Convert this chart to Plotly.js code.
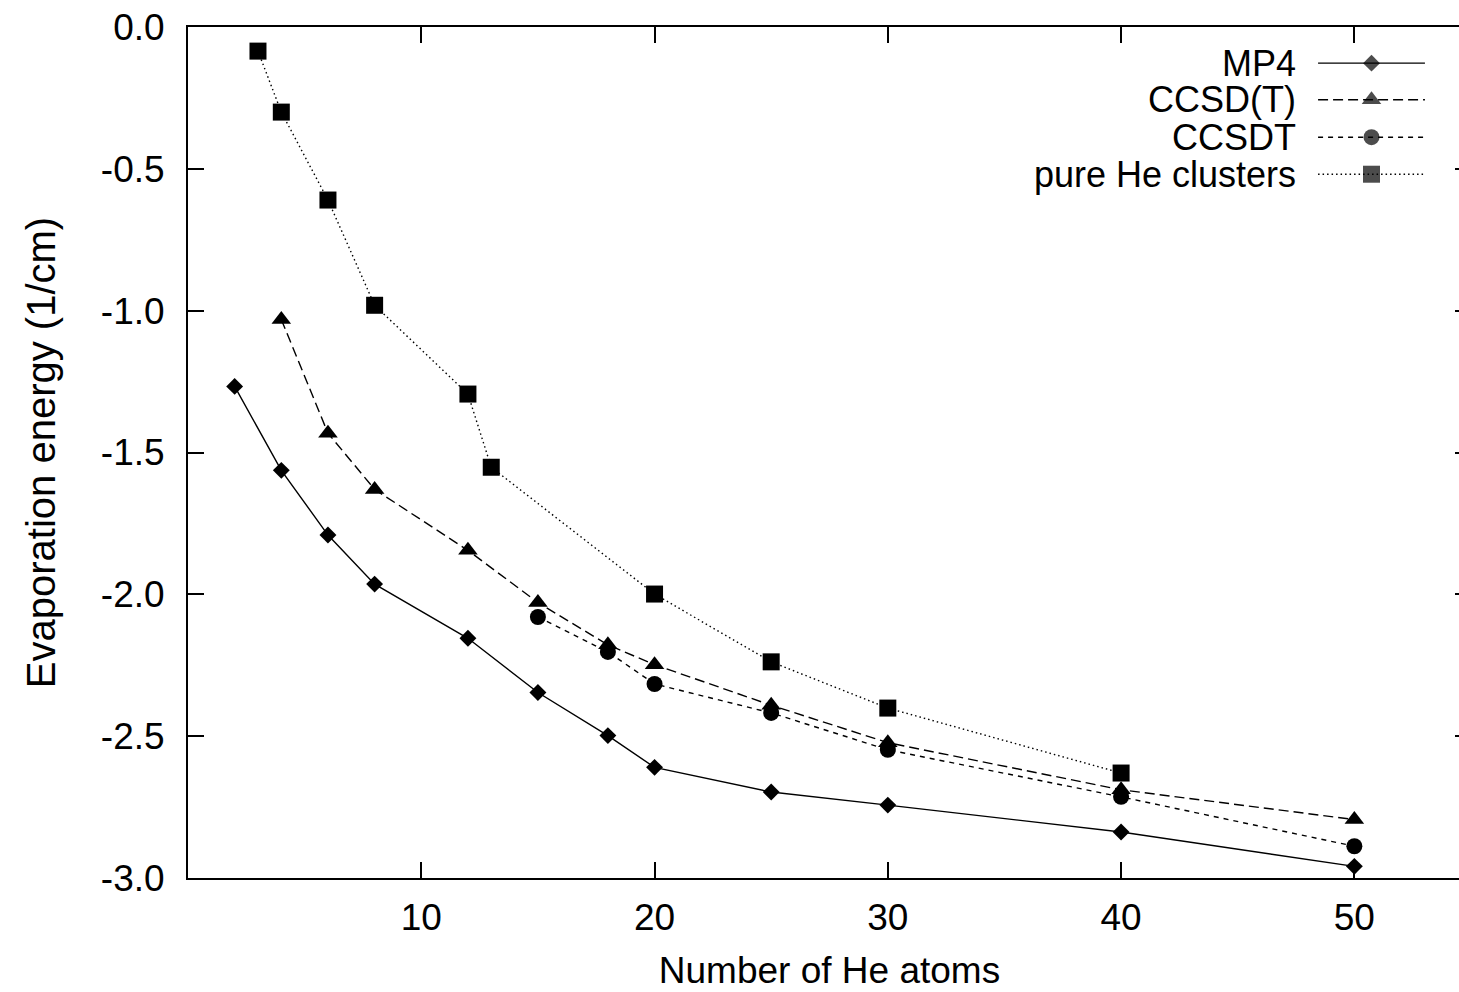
<!DOCTYPE html>
<html>
<head>
<meta charset="utf-8">
<script src="https://cdn.plot.ly/plotly-3.0.1.min.js"></script>
<style>
  html, body { margin: 0; padding: 0; background: #fff; overflow: hidden; }
  #chart { width: 1471px; height: 992px; }
</style>
</head>
<body>
<div id="chart"></div>
<script>
// ---- data ----
const seriesNames = ["MP4", "CCSD(T)", "CCSDT", "pure He clusters"];

const nMP4 = [2, 4, 6, 8, 12, 15, 18, 20, 25, 30, 40, 50];
const eMP4 = [-1.267, -1.563, -1.791, -1.964, -2.155, -2.346, -2.498, -2.610, -2.697, -2.743, -2.838, -2.959];

const nCCSD_T = [4, 6, 8, 12, 15, 18, 20, 25, 30, 40, 50];
const eCCSD_T = [-1.031, -1.432, -1.630, -1.845, -2.029, -2.178, -2.248, -2.391, -2.523, -2.689, -2.794];

const nCCSDT = [15, 18, 20, 25, 30, 40, 50];
const eCCSDT = [-2.080, -2.203, -2.316, -2.418, -2.548, -2.714, -2.888];

const nPure = [3, 4, 6, 8, 12, 13, 20, 25, 30, 40];
const ePure = [-0.085, -0.300, -0.610, -0.981, -1.294, -1.552, -1.999, -2.238, -2.401, -2.630];

const xTickVals = [10, 20, 30, 40, 50];
const xTickText = ["10", "20", "30", "40", "50"];
const yTickVals = [0, -0.5, -1.0, -1.5, -2.0, -2.5, -3.0];
const yTickText = ["0.0", "-0.5", "-1.0", "-1.5", "-2.0", "-2.5", "-3.0"];

// ---- styles ----
const FONT = "Liberation Sans, Arial, Helvetica, sans-serif";
const FS = 36;
const LW = 1.4;
const styles = [
  { dash: "solid",        symbol: "diamond",     size: 13 },
  { dash: "10px,5px",     symbol: "triangle-up", size: 17 },
  { dash: "5px,5px",      symbol: "circle",      size: 16 },
  { dash: "1.5px,3px",    symbol: "square",      size: 17 }
];

const xs = [nMP4, nCCSD_T, nCCSDT, nPure];
const ys = [eMP4, eCCSD_T, eCCSDT, ePure];

const traces = [];
for (let i = 0; i < 4; i++) {
  traces.push({
    type: "scatter", mode: "lines+markers",
    x: xs[i], y: ys[i], name: seriesNames[i], showlegend: false,
    line: { color: "#000", width: LW, dash: styles[i].dash },
    marker: { color: "#000", symbol: styles[i].symbol, size: styles[i].size, line: { width: 0 } },
    cliponaxis: false
  });
}

// ---- gnuplot-style key (text right-aligned, sample on the right) ----
const keyRowsY = [0.9575, 0.9146, 0.8705, 0.8270];
const keyLineX0 = 0.8808, keyLineX1 = 0.9641, keyTextX = 0.8640;
const annotations = [];
for (let i = 0; i < 4; i++) {
  const yy = keyRowsY[i];
  traces.push({
    type: "scatter", mode: "lines+markers", xaxis: "x2", yaxis: "y2",
    x: [keyLineX0, (keyLineX0 + keyLineX1) / 2, keyLineX1], y: [yy, yy, yy],
    showlegend: false, hoverinfo: "skip",
    line: { color: "#000", width: LW, dash: styles[i].dash },
    marker: { color: "#000", symbol: styles[i].symbol, size: [0, styles[i].size, 0], line: { width: 0 } }
  });
  annotations.push({
    xref: "paper", yref: "paper", x: keyTextX, y: yy,
    xanchor: "right", yanchor: "middle", showarrow: false, borderpad: 0,
    text: seriesNames[i], font: { family: FONT, size: FS, color: "#000" }
  });
}

const layout = {
  width: 1471, height: 992,
  margin: { l: 188, r: 0, t: 27, b: 114 },
  paper_bgcolor: "#fff", plot_bgcolor: "#fff",
  font: { family: FONT, size: FS, color: "#000" },
  showlegend: false,
  xaxis: {
    range: [0, 55], tickvals: xTickVals, ticktext: xTickText,
    ticks: "inside", ticklen: 16, tickwidth: 2, tickcolor: "#000",
    showline: true, linewidth: 2, linecolor: "#000", mirror: "ticks",
    showgrid: false, zeroline: false,
    tickfont: { family: FONT, size: 37, color: "#000" },
    ticklabelstandoff: 6,
    title: { text: "Number of He atoms", font: { family: FONT, size: 37, color: "#000" }, standoff: 20 }
  },
  yaxis: {
    range: [-3, 0], tickvals: yTickVals, ticktext: yTickText,
    ticks: "inside", ticklen: 16, tickwidth: 2, tickcolor: "#000",
    showline: true, linewidth: 2, linecolor: "#000", mirror: "ticks",
    showgrid: false, zeroline: false,
    tickfont: { family: FONT, size: 37, color: "#000" },
    ticklabelstandoff: 14,
    title: { text: "Evaporation energy (1/cm)", font: { family: FONT, size: 40, color: "#000" }, standoff: 33 }
  },
  xaxis2: { overlaying: "x", range: [0, 1], visible: false, fixedrange: true },
  yaxis2: { overlaying: "y", range: [0, 1], visible: false, fixedrange: true },
  annotations: annotations
};

Plotly.newPlot("chart", traces, layout, { displayModeBar: false, staticPlot: true });
</script>
</body>
</html>
